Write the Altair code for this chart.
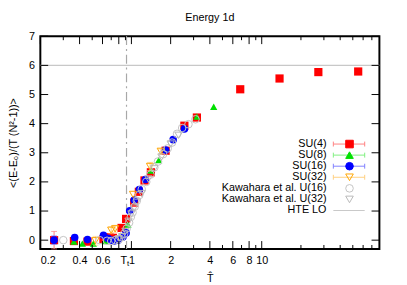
import altair as alt
import pandas as pd

# ---------------- data ----------------
title_text = "Energy 1d"
x_title = "T\u0302"
y_title = "<(E-E\u2080)/(T (N\u00b2-1))>"

x_label_values = [0.2, 0.4, 0.6, 1, 2, 4, 6, 8, 10]
x_major_ticks = [0.2, 0.4, 0.6, 0.8, 1, 2, 4, 6, 8, 10]
x_minor_ticks = [0.3, 0.5, 0.7, 0.9, 3, 5, 7, 9, 20, 30, 40, 50, 60, 70]
y_tick_values = [0, 1, 2, 3, 4, 5, 6, 7]
T_t = 0.917
hte_lo = 6.0

su4_x = [0.255, 0.362, 0.46, 0.61, 0.68, 0.72, 0.84, 0.91, 1.05, 1.14, 1.26, 1.41, 1.83, 2.55, 3.18, 6.84, 13.7, 27.2, 55.0]
su4_y = [0.0, -0.03, -0.05, 0.03, 0.1, 0.08, 0.42, 0.73, 1.29, 1.66, 2.05, 2.33, 3.07, 3.93, 4.21, 5.18, 5.55, 5.77, 5.79]
su4_e = [0.3, 0.05, 0.05, 0.04, 0.04, 0.04, 0.05, 0.05, 0.04, 0.04, 0.03, 0.03, 0.03, 0.02, 0.02, 0.01, 0.01, 0.01, 0.01]

su8_x = [0.362, 0.42, 0.51, 0.63, 0.94, 1.41, 1.62, 3.18, 4.28]
su8_y = [-0.05, -0.12, -0.12, -0.03, 0.53, 2.39, 2.75, 4.24, 4.58]
su8_e = [0.05, 0.05, 0.05, 0.04, 0.04, 0.03, 0.03, 0.02, 0.02]

su16_x = [0.255, 0.367, 0.46, 0.61, 0.66, 0.70, 0.74, 0.79, 0.86, 0.91, 0.97, 1.05, 1.15, 1.28, 1.83, 2.09, 2.55]
su16_y = [0.0, 0.09, 0.02, 0.17, 0.06, 0.0, -0.03, 0.0, 0.11, 0.25, 1.01, 1.38, 1.74, 2.08, 3.09, 3.45, 3.82]
su16_e = [0.15, 0.08, 0.06, 0.05, 0.04, 0.04, 0.04, 0.04, 0.04, 0.04, 0.03, 0.03, 0.03, 0.03, 0.02, 0.02, 0.02]

su32_x = [0.53, 0.70, 0.75, 1.03, 1.39, 1.68]
su32_y = [-0.02, 0.34, 0.39, 1.57, 2.53, 3.05]
su32_e = [0.15, 0.12, 0.12, 0.06, 0.14, 0.08]

kaw16_x = [0.30, 0.57, 0.65, 0.70, 0.75, 0.80, 0.84, 0.88, 0.92, 0.96, 0.99, 1.02, 1.06, 1.10, 1.15, 1.20, 1.30,
           1.40, 1.50, 1.60, 1.75, 1.90, 2.05, 2.24, 2.45, 2.74, 3.10]
kaw16_y = [0.0, 0.0, -0.02, -0.03, 0.0, 0.03, 0.10, 0.22, 0.40, 0.60, 0.80, 0.95, 1.15, 1.35, 1.55, 1.75, 2.0,
           2.25, 2.50, 2.70, 2.95, 3.15, 3.35, 3.65, 3.85, 3.98, 4.15]

kaw32_x = [0.80, 0.85, 0.90, 0.95, 1.00, 1.05, 1.10, 1.20, 1.35, 1.50, 1.70, 2.00, 2.30]
kaw32_y = [0.05, 0.12, 0.30, 0.65, 0.90, 1.10, 1.30, 1.60, 2.10, 2.45, 2.85, 3.30, 3.60]

legend_labels = ["SU(4)", "SU(8)", "SU(16)", "SU(32)", "Kawahara et al. U(16)", "Kawahara et al. U(32)", "HTE LO"]

# ---------------- styles ----------------
W, H = 346, 217
FONT = "Liberation Sans"
RED, GREEN, BLUE, ORANGE = "#ff0000", "#00e000", "#0000ff", "#ffa500"
RED_L, GREEN_L, BLUE_L, ORANGE_L = "#ff8080", "#80f080", "#8080ff", "#ffd080"
GRAY_C, GRAY_T, GRAY_LINE, GRAY_TT = "#c4c4c4", "#b8b8b8", "#c8c8c8", "#a8a8a8"

xs = alt.Scale(type="log", domain=[0.2, 80])
ys = alt.Scale(domain=[-0.3, 7])

x_axis = alt.Axis(values=x_label_values, format="~g", ticks=False, tickSize=0, domain=False, grid=False,
                  labelPadding=6, labelFontSize=11, labelFont=FONT, labelColor="black", labelOverlap=False,
                  title=x_title, titleFontSize=11, titleFont=FONT, titleFontWeight="normal",
                  titleColor="black", titlePadding=7)
y_axis = alt.Axis(values=y_tick_values, ticks=False, tickSize=0, domain=False, grid=False,
                  labelPadding=6, labelFontSize=11, labelFont=FONT, labelColor="black",
                  title=y_title, titleFontSize=11, titleFont=FONT, titleFontWeight="normal",
                  titleColor="black", titlePadding=10)


def X(f="x"):
    return alt.X(f"{f}:Q", scale=xs, axis=x_axis)


def Y(f="y"):
    return alt.Y(f"{f}:Q", scale=ys, axis=y_axis)


def series(xv, yv, ev, shape, color, filled, size, bar_color):
    df = pd.DataFrame({"x": xv, "y": yv, "e": ev})
    df["lo"] = df["y"] - df["e"]
    df["hi"] = df["y"] + df["e"]
    layers = []
    big = df[df["e"] >= 0.07]
    if len(big):
        b = alt.Chart(big)
        layers.append(b.mark_rule(color=bar_color, strokeWidth=1).encode(x=X(), y=Y("lo"), y2="hi:Q"))
        layers.append(b.mark_tick(orient="horizontal", color=bar_color, size=6, thickness=1).encode(x=X(), y=Y("lo")))
        layers.append(b.mark_tick(orient="horizontal", color=bar_color, size=6, thickness=1).encode(x=X(), y=Y("hi")))
    layers.append(alt.Chart(df).mark_point(shape=shape, filled=filled, size=size, color=color, opacity=1,
                                           strokeWidth=1).encode(x=X(), y=Y()))
    return layers


def plain(xv, yv, shape, color, size):
    df = pd.DataFrame({"x": xv, "y": yv})
    return [alt.Chart(df).mark_point(shape=shape, filled=False, size=size, color=color, opacity=1,
                                     strokeWidth=1).encode(x=X(), y=Y())]


main_layers = []
# reference lines
main_layers.append(alt.Chart(pd.DataFrame({"y": [hte_lo]})).mark_rule(color=GRAY_LINE, strokeWidth=1.5).encode(y=Y()))
main_layers.append(alt.Chart(pd.DataFrame({"x": [T_t]})).mark_rule(color=GRAY_TT, strokeWidth=1.2,
                                                                     strokeDash=[9, 4, 2, 4]).encode(x=X()))
main_layers += series(su4_x, su4_y, su4_e, "square", RED, True, 70, RED_L)
main_layers += series(su8_x, su8_y, su8_e, "triangle-up", GREEN, True, 55, GREEN_L)
main_layers += series(su16_x, su16_y, su16_e, "circle", BLUE, True, 60, BLUE_L)
main_layers += series(su32_x, su32_y, su32_e, "triangle-down", ORANGE, False, 55, ORANGE_L)
main_layers += plain(kaw16_x, kaw16_y, "circle", GRAY_C, 60)
main_layers += plain(kaw32_x, kaw32_y, "triangle-down", GRAY_T, 55)

# inward ticks (gnuplot style)
xmaj = alt.Chart(pd.DataFrame({"x": x_major_ticks}))
xmin = alt.Chart(pd.DataFrame({"x": x_minor_ticks}))
ytk = alt.Chart(pd.DataFrame({"y": y_tick_values}))
tick_style = dict(color="black", strokeWidth=1)
main_layers += [
    xmaj.mark_rule(**tick_style).encode(x=X(), y=alt.value(H), y2=alt.value(H - 8)),
    xmaj.mark_rule(**tick_style).encode(x=X(), y=alt.value(0), y2=alt.value(8)),
    xmin.mark_rule(**tick_style).encode(x=X(), y=alt.value(H), y2=alt.value(H - 4)),
    xmin.mark_rule(**tick_style).encode(x=X(), y=alt.value(0), y2=alt.value(4)),
    ytk.mark_rule(**tick_style).encode(y=Y(), x=alt.value(0), x2=alt.value(8)),
    ytk.mark_rule(**tick_style).encode(y=Y(), x=alt.value(W), x2=alt.value(W - 8)),
]

# T_t label (T with subscript t)
tt = alt.Chart(pd.DataFrame({"x": [T_t]}))
main_layers += [
    tt.mark_text(text="T", align="right", baseline="top", font=FONT, fontSize=11, dx=0.5, color="black")
      .encode(x=X(), y=alt.value(H + 6)),
    tt.mark_text(text="t", align="left", baseline="top", font=FONT, fontSize=8, dx=0.5, color="black")
      .encode(x=X(), y=alt.value(H + 11)),
]

main = alt.layer(*main_layers)

# ---------------- legend ----------------
leg = pd.DataFrame({
    "label": legend_labels,
    "row": list(range(len(legend_labels))),
    "shape": ["square", "triangle-up", "circle", "triangle-down", "circle", "triangle-down", "square"],
    "fill": [RED, GREEN, BLUE, "transparent", "transparent", "transparent", "transparent"],
    "stroke": [RED, GREEN, BLUE, ORANGE, GRAY_C, GRAY_T, "transparent"],
    "bar": [RED_L, GREEN_L, BLUE_L, ORANGE_L, "transparent", "transparent", GRAY_LINE],
    "cap": [RED_L, GREEN_L, BLUE_L, ORANGE_L, "transparent", "transparent", "transparent"],
})
ry = alt.Y("row:Q", scale=alt.Scale(domain=[0, 6], range=[110, 177.8]), axis=None)
lb = alt.Chart(leg)
legend = alt.layer(
    lb.mark_text(align="right", baseline="middle", font=FONT, fontSize=11, color="black")
      .encode(x=alt.value(292), y=ry, text="label:N"),
    lb.mark_rule(strokeWidth=1).encode(x=alt.value(299), x2=alt.value(331), y=ry,
                                        color=alt.Color("bar:N", scale=None)),
    lb.mark_point(shape="M0,-1L0,1", size=25, strokeWidth=1, opacity=1)
      .encode(x=alt.value(299), y=ry, stroke=alt.Stroke("cap:N", scale=None)),
    lb.mark_point(shape="M0,-1L0,1", size=25, strokeWidth=1, opacity=1)
      .encode(x=alt.value(331), y=ry, stroke=alt.Stroke("cap:N", scale=None)),
    lb.mark_point(size=60, strokeWidth=1, opacity=1, filled=True)
      .encode(x=alt.value(315.5), y=ry, shape=alt.Shape("shape:N", scale=None),
              fill=alt.Fill("fill:N", scale=None), stroke=alt.Stroke("stroke:N", scale=None)),
)

chart = alt.layer(main, legend).resolve_scale(y="independent").properties(
    width=W, height=H,
    title=alt.TitleParams(title_text, font=FONT, fontSize=11, fontWeight="normal", color="black",
                          anchor="middle", frame="group", baseline="alphabetic", offset=-1),
    autosize=alt.AutoSizeParams(type="none"),
    padding={"left": 33, "top": 26, "right": 20, "bottom": 34},
).configure_view(stroke="black", strokeWidth=2)

chart.save("out.html", embed_options={"renderer": "svg", "actions": False})
